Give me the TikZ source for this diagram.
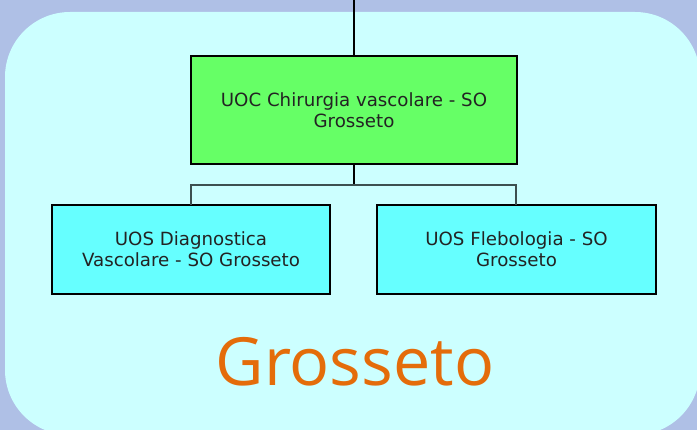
\documentclass[tikz,border=0pt]{standalone}
\usepackage{fontspec}
\setmainfont{Open Sans}
\newfontfamily\boxfont{DejaVu Sans}
\definecolor{bgblue}{RGB}{175,192,230}
\definecolor{panel}{RGB}{204,255,255}
\definecolor{greenbox}{RGB}{102,255,102}
\definecolor{cyanbox}{RGB}{102,255,255}
\definecolor{txt}{RGB}{35,35,35}
\definecolor{orangetxt}{RGB}{228,108,10}
\definecolor{elbow}{RGB}{60,80,80}
\begin{document}
\begin{tikzpicture}[x=1pt,y=-1pt,
  unitbox/.style={draw=black,line width=1.4pt,text=txt,align=center,font=\boxfont\fontsize{18.2}{21}\selectfont,inner sep=0pt},
  link/.style={draw=black,line width=1.6pt}]
\fill[bgblue] (0,0) rectangle (697,430);
\useasboundingbox (0,0) rectangle (697,430);
\begin{scope}
\clip (0,0) rectangle (697,430);
\fill[panel,rounded corners=65pt] (5,12) rectangle (700,435);
\end{scope}
\node[unitbox,fill=greenbox,minimum width=326pt,minimum height=108pt] (top) at (354,110) {UOC Chirurgia vascolare - SO\\Grosseto};
\node[unitbox,fill=cyanbox,minimum width=278pt,minimum height=89pt] (left) at (191,249.5) {UOS Diagnostica\\Vascolare - SO Grosseto};
\node[unitbox,fill=cyanbox,minimum width=279pt,minimum height=89pt] (right) at (516.5,249.5) {UOS Flebologia - SO\\Grosseto};
\coordinate (topend) at (354,0);
\coordinate (mid) at (354,185);
\draw[link] (topend) -- (top.north);
\draw[link] (top.south) -- (mid);
\draw[draw=elbow,line width=1.2pt] (191,205) -- (191,185) -- (516,185) -- (516,205);
\node[text=orangetxt,font=\fontsize{66.5}{72}\selectfont,inner sep=0pt] (city) at (355,362) {Grosseto};
\end{tikzpicture}
\end{document}
